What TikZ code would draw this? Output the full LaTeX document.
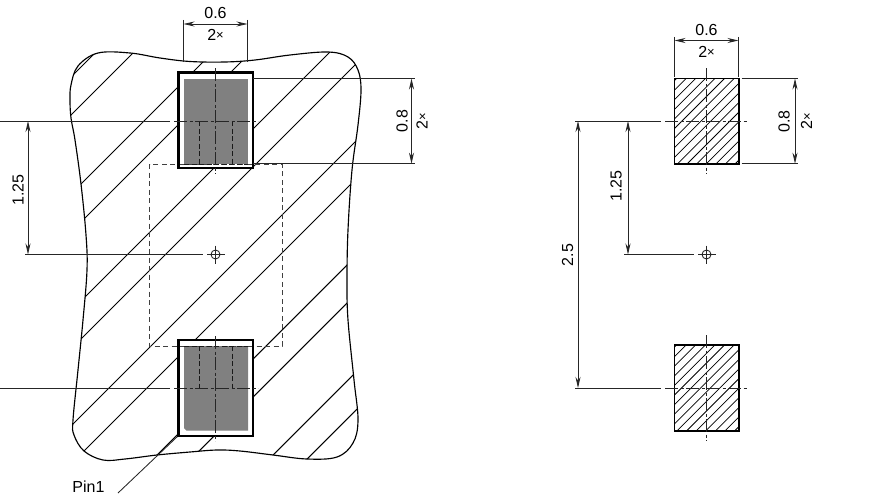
\documentclass[tikz,border=0pt]{standalone}
\usepackage{fontspec}
\setmainfont{Liberation Sans}
\usetikzlibrary{arrows.meta}
\definecolor{padgrey}{gray}{0.5}
\tikzset{
  thin line/.style={line width=0.85pt,black!85},
  outline/.style={line width=1.15pt,black},
  hatchline/.style={line width=1.05pt,black},
  fine hatch/.style={line width=0.75pt,black},
  padframe/.style={line width=2.2pt,black},
  dashbox/.style={line width=0.8pt,black!75,dash pattern=on 5pt off 3.5pt},
  centre/.style={line width=0.85pt,black!85,dash pattern=on 13pt off 2.5pt on 3pt off 2.5pt},
  hidden/.style={line width=0.9pt,black!90,dash pattern=on 5pt off 2.5pt},
  dimline/.style={line width=0.85pt,black!85,{Stealth[length=11pt,width=5pt]}-{Stealth[length=11pt,width=5pt]}},
  lab/.style={inner sep=0pt,font=\fontsize{16}{18}\selectfont}
}
\newcommand{\twox}{2{\fontsize{13}{14}\selectfont\raisebox{0.6pt}{×}}}
\begin{document}
\begin{tikzpicture}[x=1pt,y=-1pt]
\useasboundingbox (0,0) rectangle (880,495);
\fill[white] (0,0) rectangle (880,495);
% --- left: body with coarse hatch
\def\bodypath{plot[smooth cycle,tension=0.6] coordinates {(71,85)(78,66)(98,53)(130,53)(160,58)(190,61.5)(225,62)(255,60)(290,55)(328,52)(348,57)(358,70)(361,90)(358,125)(352,170)(348,230)(347,280)(348,320)(354,380)(358,420)(353,443)(337,457)(307,459)(273,455)(240,451)(217,450)(190,452)(157,455)(125,459)(103,460)(84,451)(74,435)(73,420)(78,370)(83,320)(87,270)(86,235)(81,184)(75,140)(71,118)(70,100)}}
\begin{scope}
\clip \bodypath;
\foreach \c in {148,186,265,303,382,420,497,535,612,650,728,766}
  \draw[hatchline] (\c-500,500) -- (\c,0);
\end{scope}
\draw[outline] \bodypath;
% pads
\foreach \t/\b in {72.5/168,340/436}{
  \fill[white] (178.5,\t) rectangle (253,\b);
}
\fill[padgrey] (184,79) rectangle (248,164);
\fill[padgrey] (184,346) -- (248,346) -- (248,430.5) -- (186.5,430.5) -- (184,428) -- cycle;
% pin leader
\coordinate (pinend) at (118,493);
\coordinate (pincorner) at (178.5,435.5);
\draw[thin line] (pinend) -- (pincorner);
% dashed outline
\draw[dashbox] (149.5,164) rectangle (282,346);
\foreach \t/\b in {72.5/168,340/436}{
  \draw[padframe] (178.5,\t) rectangle (253,\b);
}
% inner hidden lines
\draw[hidden] (199,121) -- (199,164);
\draw[hidden] (232,121) -- (232,164);
\draw[hidden] (184,164) -- (248,164);
\draw[hidden] (199,346) -- (199,388);
\draw[hidden] (232,346) -- (232,388);
\draw[hidden] (184,346) -- (248,346);
% centre lines
\draw[centre] (215.5,68) -- (215.5,174);
\draw[centre] (215.5,336) -- (215.5,441);
\draw[thin line] (0,121) -- (170,121);
\draw[centre] (174,121) -- (258,121);
\draw[thin line] (0,388) -- (170,388);
\draw[centre] (174,388) -- (258,388);
\draw[thin line] (25,254.5) -- (203,254.5);
\draw[thin line] (215.5,254.5) circle (4.5);
\draw[thin line] (207,254.5) -- (225,254.5) (215.5,245.5) -- (215.5,263.5);
% dimensions left
\draw[thin line] (183.5,20) -- (183.5,62) (247.5,20) -- (247.5,62);
\draw[dimline] (183.5,24) -- (247.5,24);
\node[lab] (a06) at (215.5,13) {0.6};
\node[lab] (a2x) at (215.5,35) {\twox};
\draw[thin line] (253,78.5) -- (415,78.5) (253,163.7) -- (415,163.7);
\draw[dimline] (411.5,78.5) -- (411.5,163.7);
\node[lab,rotate=90] (a08) at (402,121) {0.8};
\node[lab,rotate=90] (a2y) at (422,121) {\twox};
\draw[dimline] (28,121) -- (28,254.5);
\node[lab,rotate=90] (a125) at (18,190) {1.25};
\node[lab] (pin) at (88.5,487) {Pin1};
% --- right: land pattern
\foreach \t/\b in {78.5/163.7,345/431}{
  \begin{scope}
  \clip (674.5,\t) rectangle (738.7,\b);
  \foreach \n in {0,...,16}{
    \pgfmathsetmacro{\c}{\t+674.5+\n*9.6+2}
    \draw[fine hatch] (\c-500,500) -- (\c,0);
  }
  \end{scope}
  \draw[line width=1.9pt] (674.5,\t) rectangle (738.7,\b);
}
\draw[centre] (706.5,68) -- (706.5,174);
\draw[centre] (706.5,335) -- (706.5,441);
\draw[thin line] (575,121) -- (661,121);
\draw[centre] (665,121) -- (748,121);
\draw[thin line] (575,388) -- (661,388);
\draw[centre] (665,388) -- (748,388);
\draw[thin line] (624,254.5) -- (694,254.5);
\draw[thin line] (706.5,254.5) circle (4.5);
\draw[thin line] (698,254.5) -- (716,254.5) (706.5,245.5) -- (706.5,263.5);
\draw[dimline] (628,121) -- (628,254.5);
\node[lab,rotate=90] (b125) at (616,186) {1.25};
\draw[dimline] (578,121) -- (578,388);
\node[lab,rotate=90] (b25) at (567.5,255) {2.5};
\draw[thin line] (674.5,37) -- (674.5,77) (738.5,37) -- (738.5,77);
\draw[dimline] (674.5,40.5) -- (738.5,40.5);
\node[lab] (b06) at (706.5,30) {0.6};
\node[lab] (b2x) at (706.5,51.5) {\twox};
\draw[thin line] (741.5,78.5) -- (798,78.5) (741.5,163.7) -- (798,163.7);
\draw[dimline] (795,78.5) -- (795,163.7);
\node[lab,rotate=90] (b08) at (784,121.5) {0.8};
\node[lab,rotate=90] (b2y) at (806.5,121.5) {\twox};
\end{tikzpicture}
\end{document}
